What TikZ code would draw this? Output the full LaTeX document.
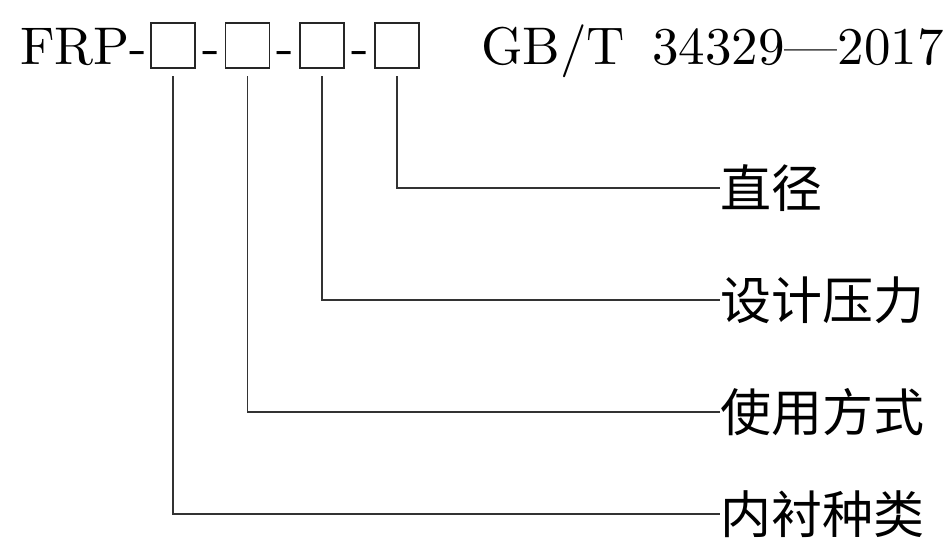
\documentclass[tikz,border=0pt]{standalone}
\usepackage{fontspec}
\setmainfont{lmroman10-regular}[Extension=.otf]
\newfontfamily\cjk{Noto Sans CJK SC}
\begin{document}
\begin{tikzpicture}[x=1pt,y=-1pt,
  txt/.style={inner sep=0pt, font=\fontsize{53}{60}\selectfont},
  lbl/.style={inner sep=0pt, anchor=west, font=\cjk\fontsize{51}{60}\selectfont},
  slot/.style={draw=black!85, line width=1.6pt, minimum width=44pt, minimum height=45pt, inner sep=0pt},
  conn/.style={draw=black!80, line width=1.5pt}]
\useasboundingbox (0,0) rectangle (950,542);
\node[txt, anchor=base west] (frp) at (20,64) {FRP-};
\node[slot] (b1) at (173,45.5) {};
\node[slot] (b2) at (247.5,45.5) {};
\node[slot] (b3) at (322,45.5) {};
\node[slot] (b4) at (397,45.5) {};
\node[txt, anchor=base] (h1) at (211,64) {-};
\node[txt, anchor=base] (h2) at (285,64) {-};
\node[txt, anchor=base] (h3) at (360,64) {-};
\node[txt, anchor=base west] (gb) at (481,64) {GB/T};
\node[txt, anchor=base east] (num) at (944,64) {34329---2017};
\node[lbl] (l1) at (720,188) {直径};
\node[lbl] (l2) at (720,300) {设计压力};
\node[lbl] (l3) at (720,412) {使用方式};
\node[lbl] (l4) at (720,514) {内衬种类};
\coordinate (s1) at (173,76);
\coordinate (s2) at (247.5,76);
\coordinate (s3) at (322,76);
\coordinate (s4) at (397,76);
\draw[conn] (s4) |- (l1.west);
\draw[conn] (s3) |- (l2.west);
\draw[conn] (s2) |- (l3.west);
\draw[conn] (s1) |- (l4.west);
\end{tikzpicture}
\end{document}
